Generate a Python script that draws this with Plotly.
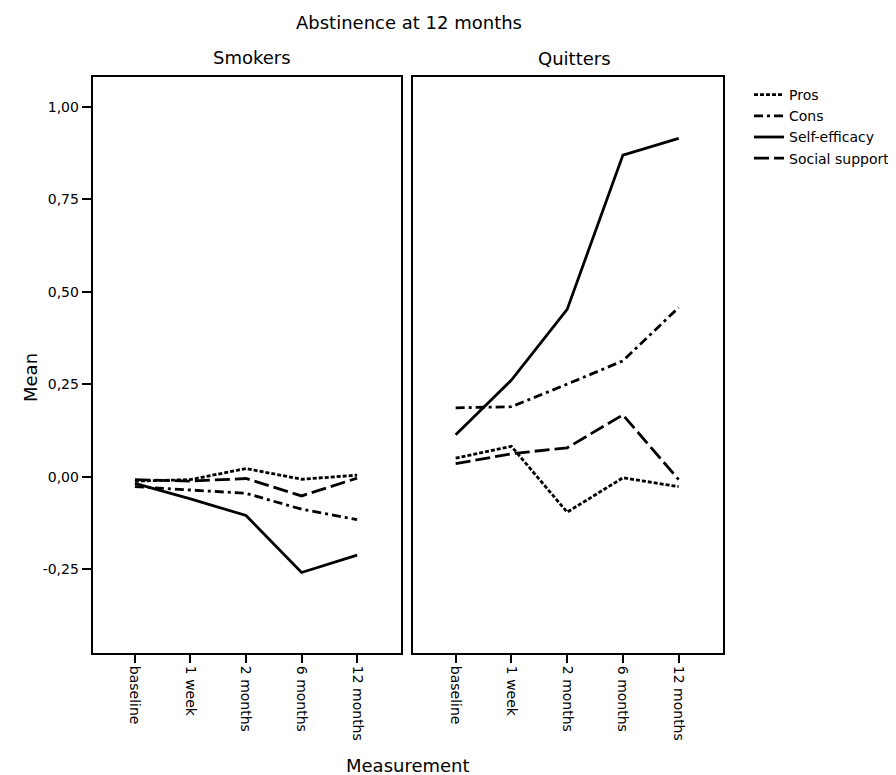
import plotly.graph_objects as go

categories = ["baseline", "1 week", "2 months", "6 months", "12 months"]
series_names = ["Pros", "Cons", "Self-efficacy", "Social support"]

smokers = {
    "Pros": [-0.012, -0.008, 0.022, -0.007, 0.004],
    "Cons": [-0.027, -0.036, -0.045, -0.088, -0.116],
    "Self-efficacy": [-0.018, -0.060, -0.105, -0.259, -0.212],
    "Social support": [-0.008, -0.012, -0.005, -0.052, -0.004],
}
quitters = {
    "Pros": [0.050, 0.082, -0.096, -0.003, -0.027],
    "Cons": [0.186, 0.189, 0.250, 0.313, 0.457],
    "Self-efficacy": [0.113, 0.261, 0.452, 0.869, 0.914],
    "Social support": [0.035, 0.062, 0.078, 0.167, -0.008],
}
y_ticks = [-0.25, 0.0, 0.25, 0.5, 0.75, 1.0]
y_tick_labels = ["-0,25", "0,00", "0,25", "0,50", "0,75", "1,00"]

dashes = {
    "Pros": "4px,2px",
    "Cons": "9px,4px,3px,4px",
    "Self-efficacy": "solid",
    "Social support": "15px,5px",
}

FONT = "DejaVu Sans"
W, H = 896, 775
OFF = 8  # page body margin

fig = go.Figure()
xs = list(range(len(categories)))
for name in series_names:
    fig.add_trace(go.Scatter(x=xs, y=smokers[name], mode="lines", name=name,
                             line=dict(color="black", width=2.8, dash=dashes[name]),
                             xaxis="x", yaxis="y", legendgroup=name, showlegend=True))
for name in series_names:
    fig.add_trace(go.Scatter(x=xs, y=quitters[name], mode="lines", name=name,
                             line=dict(color="black", width=2.8, dash=dashes[name]),
                             xaxis="x2", yaxis="y2", legendgroup=name, showlegend=False))

def px_x(p):
    return (p - OFF) / W

def px_y(p):
    return 1 - (p - OFF) / H

xcommon = dict(range=[-0.76, 4.79], tickmode="array", tickvals=xs, ticktext=categories,
               tickangle=90, ticks="outside", ticklen=8, tickwidth=2, tickcolor="black",
               showline=True, linecolor="black", linewidth=2, mirror=True,
               showgrid=False, zeroline=False, tickfont=dict(family=FONT, size=14, color="black"))
ycommon = dict(range=[-0.4765, 1.080], showline=True, linecolor="black", linewidth=2,
               mirror=True, showgrid=False, zeroline=False,
               domain=[px_y(653), px_y(77)])

def label(text, x, y, angle=0, size=18):
    return dict(text=text, x=px_x(x), y=px_y(y), xref="paper", yref="paper",
                xanchor="center", yanchor="middle", textangle=angle,
                showarrow=False, font=dict(family=FONT, size=size, color="black"))

fig.update_layout(
    width=W, height=H,
    margin=dict(l=0, r=0, t=0, b=0),
    paper_bgcolor="white", plot_bgcolor="white",
    separators=",.",
    font=dict(family=FONT, size=14, color="black"),
    xaxis=dict(domain=[px_x(92.7), px_x(401)], anchor="y", **xcommon),
    xaxis2=dict(domain=[px_x(413.3), px_x(722.7)], anchor="y2", **xcommon),
    yaxis=dict(anchor="x", tickmode="array", tickvals=y_ticks, ticktext=y_tick_labels,
               ticks="outside", ticklen=9, tickwidth=2, tickcolor="black",
               tickfont=dict(family=FONT, size=14, color="black"), **ycommon),
    yaxis2=dict(anchor="x2", showticklabels=False, ticks="", **ycommon),
    showlegend=True,
    legend=dict(x=px_x(749), y=px_y(79), xanchor="left", yanchor="top",
                font=dict(family=FONT, size=14, color="black"),
                tracegroupgap=0, itemwidth=30, bgcolor="rgba(0,0,0,0)"),
    annotations=[
        label("Abstinence at 12 months", 409, 22),
        label("Smokers", 252, 57),
        label("Quitters", 574, 59),
        label("Mean", 30, 378, angle=-90),
        label("Measurement", 408, 765),
    ],
)

fig.write_html("out.html")
